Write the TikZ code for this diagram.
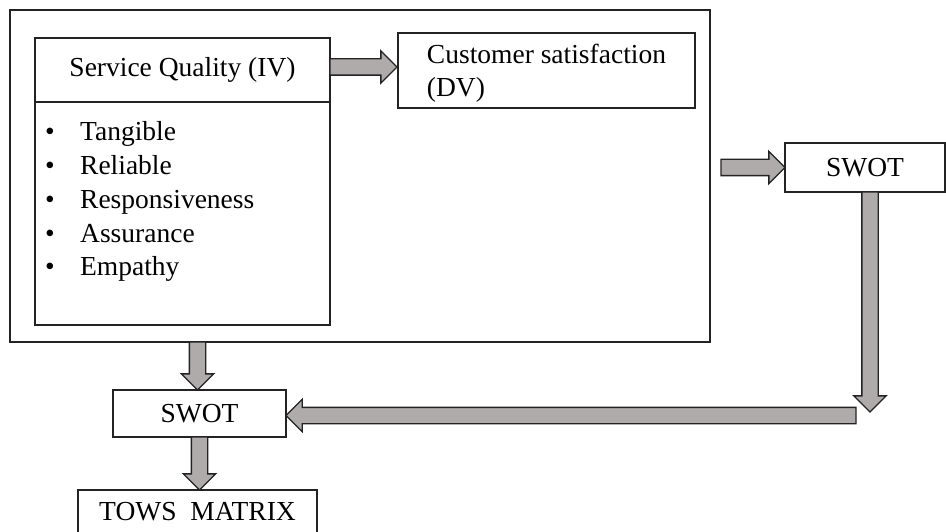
\documentclass[tikz,border=0pt]{standalone}
\usepackage{fontspec}
\setmainfont{Liberation Serif}
\usetikzlibrary{positioning,shapes.arrows}
\definecolor{arrowfill}{RGB}{176,171,171}
\definecolor{edgegray}{RGB}{35,35,35}
\tikzset{
  box/.style={draw=edgegray, line width=1.4pt, inner sep=0pt, outer sep=0pt,
    font=\fontsize{27.5}{33}\selectfont},
  listitem/.style={inner sep=0pt, font=\fontsize{27.5}{33}\selectfont},
  blockarrow/.style={single arrow, draw=edgegray, fill=arrowfill, line width=1.4pt,
    single arrow head extend=8pt, inner sep=7.5pt, minimum width=0pt, outer sep=0pt}
}
\begin{document}
\begin{tikzpicture}[x=1pt, y=-1pt]
\useasboundingbox (0,0) rectangle (946,532);
% frame around the model
\node[box, minimum width=700, minimum height=332] (frame) at (360,176) {};

\node[box, minimum width=295, minimum height=64] (sqhead) at (182.5,70) {Service Quality (IV)};
\node[box, minimum width=295, minimum height=223, below=0pt of sqhead] (sqbody) {};
\foreach \word [count=\i] in {Tangible,Reliable,Responsiveness,Assurance,Empathy}
  \node[listitem, anchor=base west] (item\i) at (45,{141+33.75*(\i-1)}) {\makebox[35pt][l]{\textbullet}\word};

\node[box, minimum width=297, minimum height=75, align=left, text depth=0pt] (cs) at (546.5,70.5) {Customer satisfaction\\(DV)};

\node[box, minimum width=160, minimum height=49] (swotr) at (865,167.5) {SWOT};
\node[box, minimum width=173, minimum height=47] (swotl) at (199.5,413.5) {SWOT};
\node[box, minimum width=239, minimum height=44] (tows) at (197.5,512) {TOWS\ \ MATRIX};

% block arrows
\node[blockarrow, minimum height=67, anchor=tail] (a1) at ([yshift=3]sqhead.east) {};
\node[blockarrow, minimum height=64, anchor=tip] (a2) at (swotr.west) {};
\node[blockarrow, shape border rotate=270, minimum height=220, anchor=tail] (a3) at ([xshift=5]swotr.south) {};
\node[blockarrow, shape border rotate=180, minimum height=570, anchor=tip] (a4) at ([yshift=-2]swotl.east) {};
\node[blockarrow, shape border rotate=270, minimum height=48, anchor=tip] (a5) at ([xshift=-2]swotl.north) {};
\node[blockarrow, shape border rotate=270, minimum height=53, anchor=tail] (a6) at (swotl.south) {};
\end{tikzpicture}
\end{document}
